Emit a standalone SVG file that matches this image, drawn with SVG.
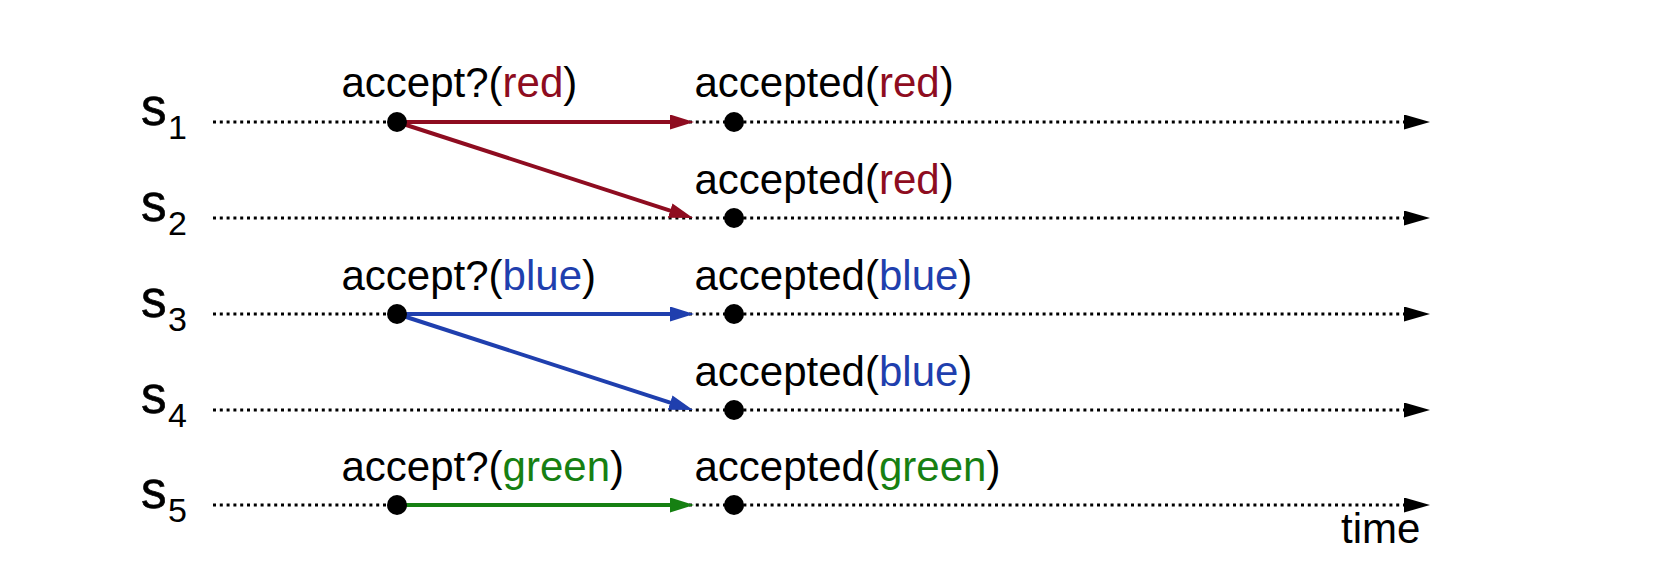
<svg xmlns="http://www.w3.org/2000/svg" width="1680" height="582" viewBox="0 0 1680 582">
<style>
text{font-family:"Liberation Sans",Arial,Helvetica,sans-serif;fill:#000}
.lbl{font-size:42px}
.s{font-size:51px;stroke:#000;stroke-width:0.6px}
.sub{font-size:34px;stroke:none}
.tl{fill:none;stroke:#000;stroke-width:3;stroke-dasharray:3 3.8}
.dot{fill:#000}
.red{fill:#8e0c20}
.blue{fill:#1f3fae}
.green{fill:#168012}
.ar{fill:none;stroke-width:4}
</style>
<defs>
<marker id="ab" markerUnits="userSpaceOnUse" viewBox="0 0 26 15" refX="0" refY="7.5" markerWidth="26" markerHeight="15" orient="auto"><path d="M0,0 L26,7.5 L0,15 z" fill="#000"/></marker>
<marker id="ar" markerUnits="userSpaceOnUse" viewBox="0 0 24 15" refX="4" refY="7.5" markerWidth="24" markerHeight="15" orient="auto"><path d="M0,0 L24,7.5 L0,15 z" fill="#8e0c20"/></marker>
<marker id="abl" markerUnits="userSpaceOnUse" viewBox="0 0 24 15" refX="4" refY="7.5" markerWidth="24" markerHeight="15" orient="auto"><path d="M0,0 L24,7.5 L0,15 z" fill="#1f3fae"/></marker>
<marker id="ag" markerUnits="userSpaceOnUse" viewBox="0 0 24 15" refX="4" refY="7.5" markerWidth="24" markerHeight="15" orient="auto"><path d="M0,0 L24,7.5 L0,15 z" fill="#168012"/></marker>
</defs>
<g id="timelines">
<line class="tl" x1="213" y1="122" x2="1404" y2="122" marker-end="url(#ab)"/>
<line class="tl" x1="213" y1="218" x2="1404" y2="218" marker-end="url(#ab)"/>
<line class="tl" x1="213" y1="314" x2="1404" y2="314" marker-end="url(#ab)"/>
<line class="tl" x1="213" y1="410" x2="1404" y2="410" marker-end="url(#ab)"/>
<line class="tl" x1="213" y1="505" x2="1404" y2="505" marker-end="url(#ab)"/>
</g>
<g id="process-labels">
<text class="s" x="141" y="125">s<tspan class="sub" x="168" y="139">1</tspan></text>
<text class="s" x="141" y="221">s<tspan class="sub" x="168" y="235">2</tspan></text>
<text class="s" x="141" y="317">s<tspan class="sub" x="168" y="331">3</tspan></text>
<text class="s" x="141" y="413">s<tspan class="sub" x="168" y="427">4</tspan></text>
<text class="s" x="141" y="508">s<tspan class="sub" x="168" y="522">5</tspan></text>
</g>
<g id="connectors">
<line class="ar" stroke="#8e0c20" x1="397" y1="122" x2="674" y2="122" marker-end="url(#ar)"/>
<line class="ar" stroke="#8e0c20" x1="397" y1="122" x2="674" y2="211.8" marker-end="url(#ar)"/>
<line class="ar" stroke="#1f3fae" x1="397" y1="314" x2="674" y2="314" marker-end="url(#abl)"/>
<line class="ar" stroke="#1f3fae" x1="397" y1="314" x2="674" y2="403.8" marker-end="url(#abl)"/>
<line class="ar" stroke="#168012" x1="397" y1="505" x2="674" y2="505" marker-end="url(#ag)"/>
</g>
<g id="ev-s1-accept"><circle class="dot" cx="397" cy="122" r="10"/><text class="lbl" x="341.5" y="97">accept?(<tspan class="red">red</tspan>)</text></g>
<g id="ev-s1-accepted"><circle class="dot" cx="734" cy="122" r="10"/><text class="lbl" x="694.5" y="97">accepted(<tspan class="red">red</tspan>)</text></g>
<g id="ev-s2-accepted"><circle class="dot" cx="734" cy="218" r="10"/><text class="lbl" x="694.5" y="194">accepted(<tspan class="red">red</tspan>)</text></g>
<g id="ev-s3-accept"><circle class="dot" cx="397" cy="314" r="10"/><text class="lbl" x="341.5" y="290">accept?(<tspan class="blue">blue</tspan>)</text></g>
<g id="ev-s3-accepted"><circle class="dot" cx="734" cy="314" r="10"/><text class="lbl" x="694.5" y="290">accepted(<tspan class="blue">blue</tspan>)</text></g>
<g id="ev-s4-accepted"><circle class="dot" cx="734" cy="410" r="10"/><text class="lbl" x="694.5" y="386">accepted(<tspan class="blue">blue</tspan>)</text></g>
<g id="ev-s5-accept"><circle class="dot" cx="397" cy="505" r="10"/><text class="lbl" x="341.5" y="481">accept?(<tspan class="green">green</tspan>)</text></g>
<g id="ev-s5-accepted"><circle class="dot" cx="734" cy="505" r="10"/><text class="lbl" x="694.5" y="481">accepted(<tspan class="green">green</tspan>)</text></g>
<g id="time-label"><text class="lbl" x="1341" y="543">time</text></g>
</svg>
